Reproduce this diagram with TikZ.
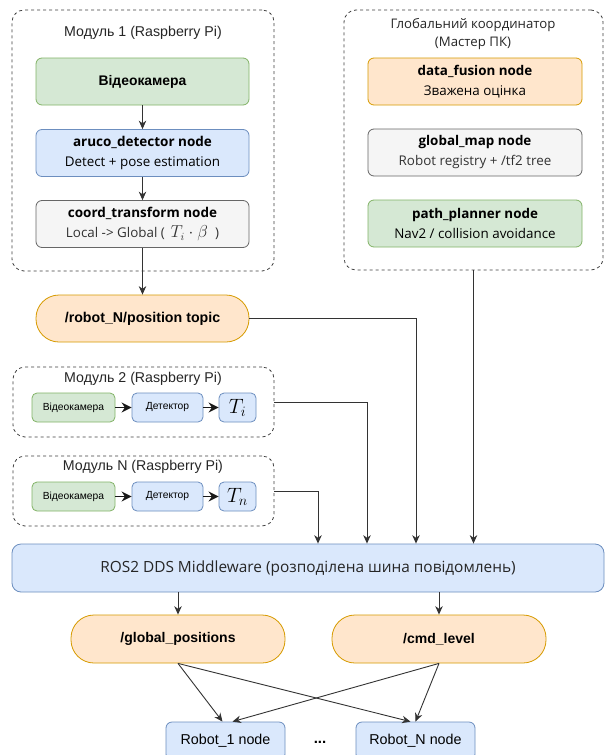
\documentclass[tikz,border=0pt]{standalone}
\usepackage{fontspec}
\setmainfont{Liberation Sans}
\newfontfamily\osans{Open Sans}
\usetikzlibrary{arrows.meta,calc}

\definecolor{greenF}{HTML}{D5E8D4}\definecolor{greenD}{HTML}{82B366}
\definecolor{blueF}{HTML}{DAE8FC}\definecolor{blueD}{HTML}{6C8EBF}
\definecolor{grayF}{HTML}{F5F5F5}\definecolor{grayD}{HTML}{666666}
\definecolor{orangeF}{HTML}{FFE6CC}\definecolor{orangeD}{HTML}{D79B00}
\definecolor{txtgray}{HTML}{333333}
\definecolor{linegray}{HTML}{333333}

\begin{document}
\begin{tikzpicture}[x=1pt,y=-1pt,
  box/.style={rounded corners=6pt, line width=0.8pt, align=center, inner sep=0pt},
  greenbox/.style={box, fill=greenF, draw=greenD},
  bluebox/.style={box, fill=blueF, draw=blueD},
  graybox/.style={box, fill=grayF, draw=grayD},
  orangebox/.style={box, fill=orangeF, draw=orangeD},
  bigbox/.style={minimum width=213pt, minimum height=47pt},
  pill/.style={orangebox, rounded corners=23pt, minimum width=214pt, minimum height=48pt},
  group/.style={draw=black!75, line width=0.8pt, dash pattern=on 3pt off 3pt,
                rounded corners=12pt, inner sep=0pt},
  small/.style={minimum height=29pt, font=\fontsize{10.3}{12}\selectfont},
  mathbox/.style={bluebox, minimum height=29pt, minimum width=37pt, rounded corners=5pt,
                  font=\fontsize{21}{23}\selectfont},
  arr/.style={draw=linegray, line width=0.9pt, -{Stealth[length=8.5pt,width=7.5pt]}},
  thickarr/.style={draw=black!90, line width=1.7pt, -{Stealth[length=10pt,width=10pt]}},
  title/.style={font=\fontsize{14.2}{17}\selectfont, text=black!85},
  sans/.style={font=\osans\fontsize{13.4}{20}\selectfont},
]
\useasboundingbox (0,0) rectangle (605,755);
\fill[white] (0,0) rectangle (605,755);

% ---------- Module 1 ----------
\node[group, minimum width=262pt, minimum height=261pt] (m1) at (143,140.5) {};
\node[title] (m1t) at (143,33) {Модуль 1 (Raspberry Pi)};
\node[greenbox, bigbox, font=\bfseries\fontsize{13.9}{16}\selectfont] (cam) at (142.5,81.5) {Відеокамера};
\node[bluebox, bigbox, sans] (aruco) at (142.5,153)
  {{\fontsize{13.5}{20}\selectfont\bfseries aruco\_detector node}\\Detect + pose estimation};
\node[graybox, bigbox, sans] (coord) at (142.5,224)
  {{\fontsize{13.5}{20}\selectfont\bfseries coord\_transform node}\\\textcolor{txtgray}{Local -> Global ( \,{\fontsize{16}{18}\selectfont$T_i\cdot\beta$}\; )}};
\draw[arr] (cam.south) -- (aruco.north);
\draw[arr] (aruco.south) -- (coord.north);

% ---------- Global coordinator ----------
\node[group, minimum width=259pt, minimum height=260pt] (gc) at (473.5,140) {};
\node[font=\osans\fontsize{13.2}{18}\selectfont, align=center, text=black!85] (gct) at (473,34)
  {Глобальний координатор\\(Мастер ПК)};
\node[orangebox, bigbox, minimum width=214pt, sans] (df) at (475,81.5)
  {\textbf{data\_fusion node}\\Зважена оцінка};
\node[graybox, bigbox, minimum width=214pt, sans] (gm) at (475,152.5)
  {\textbf{global\_map node}\\\textcolor{txtgray}{Robot registry + /tf2 tree}};
\node[greenbox, bigbox, minimum width=214pt, sans] (pp) at (475,223.5)
  {\textbf{path\_planner node}\\Nav2 / collision avoidance};

% ---------- Position topic ----------
\node[pill, minimum width=213pt, minimum height=47pt, font=\bfseries\fontsize{14.2}{16}\selectfont] (topic) at (142.5,318.5)
  {/robot\_N/position topic};
\draw[arr] (coord.south) -- (topic.north);

% ---------- Module 2 ----------
\node[group, minimum width=261pt, minimum height=70pt] (m2) at (143.5,402) {};
\node[title] (m2t) at (143,379) {Модуль 2 (Raspberry Pi)};
\node[greenbox, small, minimum width=83pt, rounded corners=5pt] (cam2) at (73.5,407.5) {Відеокамера};
\node[bluebox, small, minimum width=71pt, rounded corners=5pt] (det2) at (167.5,407.5) {Детектор};
\node[mathbox] (t2) at (237.5,407.5) {$T_i$};
\draw[thickarr] (cam2.east) -- (det2.west);
\draw[thickarr] (det2.east) -- (t2.west);

% ---------- Module N ----------
\node[group, minimum width=261pt, minimum height=70pt] (mn) at (143.5,491) {};
\node[title] (mnt) at (143,467) {Модуль N (Raspberry Pi)};
\node[greenbox, small, minimum width=83pt, rounded corners=5pt] (camn) at (73.5,496.5) {Відеокамера};
\node[bluebox, small, minimum width=71pt, rounded corners=5pt] (detn) at (167.5,496.5) {Детектор};
\node[mathbox] (tn) at (237.5,496.5) {$T_n$};
\draw[thickarr] (camn.east) -- (detn.west);
\draw[thickarr] (detn.east) -- (tn.west);

% ---------- Middleware bus ----------
\node[bluebox, minimum width=592pt, minimum height=48pt, rounded corners=9pt,
      font=\osans\fontsize{15.4}{18}\selectfont, text=black!85] (bus) at (308,568)
  {ROS2 DDS Middleware (розподілена шина повідомлень)};

\coordinate (inN) at (318,0);
\coordinate (in2) at (367,0);
\coordinate (in1) at (416,0);
\draw[arr] (mn.east) -| (inN |- bus.north);
\draw[arr] (m2.east) -| (in2 |- bus.north);
\draw[arr] (topic.east) -| (in1 |- bus.north);
\draw[arr] (gc.south) -- (gc.south |- bus.north);

% ---------- Output topics ----------
\node[pill, font=\bfseries\fontsize{14}{16}\selectfont] (gpos) at (178,639) {/global\_positions};
\node[pill, font=\bfseries\fontsize{14}{16}\selectfont] (cmd) at (439,639) {/cmd\_level};
\draw[arr] (bus.south -| gpos.north) -- (gpos.north);
\draw[arr] (bus.south -| cmd.north) -- (cmd.north);

% ---------- Robots ----------
\node[bluebox, minimum width=119pt, minimum height=38pt, font=\fontsize{14.3}{16}\selectfont] (r1) at (225.5,741) {Robot\_1 node};
\node[bluebox, minimum width=119pt, minimum height=38pt, font=\fontsize{14.3}{16}\selectfont] (rN) at (415.5,741) {Robot\_N node};
\node[font=\bfseries\fontsize{15}{17}\selectfont] (dots) at (320,742) {...};

\draw[arr] (gpos.south) -- ([xshift=-3pt]r1.north);
\draw[arr] (gpos.south) -- ([xshift=-5pt]rN.north);
\draw[arr] (cmd.south) -- ([xshift=7pt]r1.north);
\draw[arr] (cmd.south) -- (rN.north);
\end{tikzpicture}
\end{document}
